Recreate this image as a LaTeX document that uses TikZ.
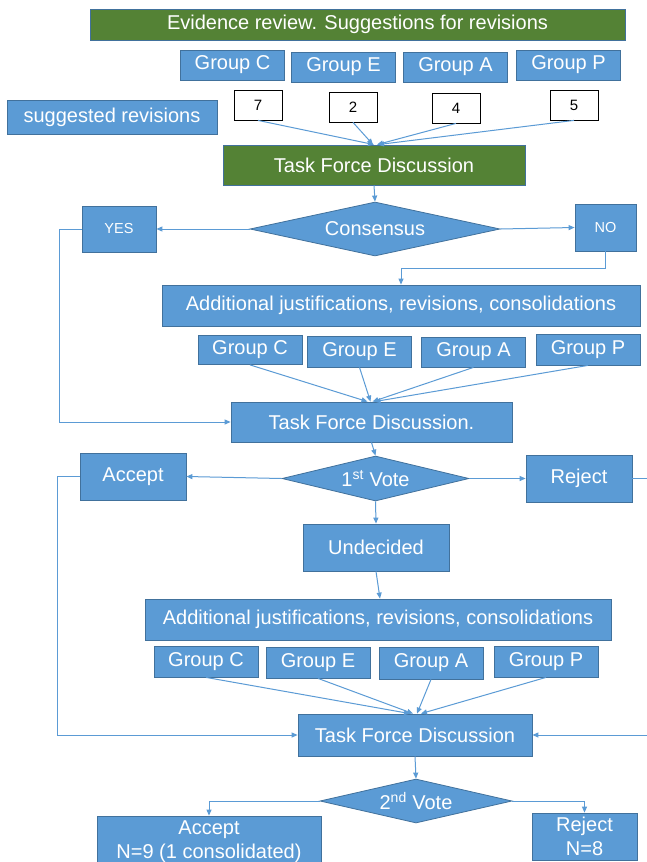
\documentclass[tikz,border=0pt]{standalone}
\usepackage{fontspec}
\setmainfont{Liberation Sans}
\usetikzlibrary{shapes.geometric,arrows.meta,calc}
\definecolor{bfill}{HTML}{5B9BD5}
\definecolor{bdraw}{HTML}{41719C}
\definecolor{gfill}{HTML}{548235}
\definecolor{aline}{HTML}{5B9BD5}
\begin{document}
\begin{tikzpicture}[x=1pt,y=-1pt,
  box/.style={rectangle, fill=bfill, draw=bdraw, line width=0.8pt, text=white, inner sep=0pt, font=\fontsize{20}{23}\selectfont, align=center},
  gbox/.style={box, fill=gfill},
  grp/.style={box, minimum width=104pt, minimum height=30pt},
  numbox/.style={rectangle, fill=white, draw=black, line width=0.8pt, inner sep=0pt, font=\fontsize{15}{18}\selectfont, minimum width=48pt, minimum height=30pt},
  dia/.style={diamond, fill=bfill, draw=bdraw, line width=0.8pt, text=white, inner sep=0pt, font=\fontsize{20}{23}\selectfont},
  arr/.style={draw=aline, line width=1pt, -{Triangle[length=6pt,width=5pt]}},
  ln/.style={draw=aline, line width=1pt}]
\fill[white] (0,0) rectangle (646,862);
\useasboundingbox (0,0) rectangle (646,862);

% top part
\node[gbox, minimum width=535pt, minimum height=31pt] (ev) at (357.5,24.5) {Evidence review. Suggestions for revisions};
\node[grp] (g1c) at (232.5,65) {Group C};
\node[grp] (g1e) at (343.5,67) {Group E};
\node[grp] (g1a) at (455.5,67) {Group A};
\node[grp] (g1p) at (568.5,65) {Group P};
\node[box, minimum width=210pt, minimum height=34pt] (sug) at (112,117) {suggested revisions};
\node[numbox] (n7) at (258,105) {7};
\node[numbox] (n2) at (353,107) {2};
\node[numbox] (n4) at (456,108) {4};
\node[numbox] (n5) at (574,105) {5};
\node[gbox, minimum width=302pt, minimum height=40pt] (tf1) at (374,165) {Task Force Discussion};

\draw[arr] (n7.south) -- ([xshift=0pt]tf1.north);
\draw[arr] (n2.south) -- ([xshift=-1pt]tf1.north);
\draw[arr] (n4.south) -- ([xshift=3pt]tf1.north);
\draw[arr] (n5.south) -- ([xshift=4pt]tf1.north);

% consensus
\node[dia, aspect=4.63, minimum width=250pt, minimum height=54pt] (cons) at (375,229) {Consensus};
\node[box, minimum width=74pt, minimum height=46pt, font=\fontsize{14.5}{17}\selectfont] (yes) at (119,229) {YES};
\node[box, minimum width=61pt, minimum height=47pt, font=\fontsize{14.5}{17}\selectfont] (no) at (605.5,227.5) {NO};
\draw[arr] (tf1.south) -- (cons.north);
\draw[arr] (cons.west) -- (yes.east);
\draw[arr] (cons.east) -- (no.west);

\node[box, minimum width=478pt, minimum height=41pt] (add1) at (401,305.5) {Additional justifications, revisions, consolidations};
\draw[arr] (no.south) -- ++(0,17) -| (add1.north);

\node[grp, minimum height=29pt] (g2c) at (250,350) {Group C};
\node[grp, minimum height=31pt] (g2e) at (359.5,351.5) {Group E};
\node[grp, minimum height=30pt] (g2a) at (473.5,352) {Group A};
\node[grp, minimum height=31pt] (g2p) at (588,349.5) {Group P};
\node[box, minimum width=281pt, minimum height=40pt] (tf2) at (371.5,422) {Task Force Discussion.};
\draw[arr] (g2c.south) -- ([xshift=-4pt]tf2.north);
\draw[arr] (g2e.south) -- ([xshift=-1pt]tf2.north);
\draw[arr] (g2a.south) -- ([xshift=1pt]tf2.north);
\draw[arr] (g2p.south) -- ([xshift=3pt]tf2.north);
\draw[arr] (yes.west) -- ++(-22,0) |- (tf2.west);

% first vote
\node[dia, aspect=4.16, minimum width=187pt, minimum height=45pt] (v1) at (375.5,478.5) {1\textsuperscript{st} Vote};
\node[box, minimum width=106pt, minimum height=47pt] (acc1) at (133,476.5) {Accept};
\node[box, minimum width=106pt, minimum height=47pt] (rej1) at (579,478.5) {Reject};
\draw[arr] (tf2.south) -- (v1.north);
\draw[arr] (v1.west) -- (acc1.east);
\draw[arr] (v1.east) -- (rej1.west);

\node[box, minimum width=146pt, minimum height=47pt] (und) at (376,547.5) {Undecided};
\draw[arr] (v1.south) -- (und.north);
\node[box, minimum width=466pt, minimum height=41pt] (add2) at (378,619.5) {Additional justifications, revisions, consolidations};
\draw[arr] (und.south) -- ([xshift=2pt]add2.north);

\node[grp, minimum height=31pt] (g3c) at (206,661.5) {Group C};
\node[grp, minimum height=31pt] (g3e) at (318,662.5) {Group E};
\node[grp, minimum height=32pt] (g3a) at (431,663) {Group A};
\node[grp, minimum height=31pt] (g3p) at (546,661.5) {Group P};
\node[box, minimum width=234pt, minimum height=42pt] (tf3) at (415,735) {Task Force Discussion};
\draw[arr] (g3c.south) -- ([xshift=-5pt]tf3.north);
\draw[arr] (g3e.south) -- ([xshift=-2pt]tf3.north);
\draw[arr] (g3a.south) -- ([xshift=2pt]tf3.north);
\draw[arr] (g3p.south) -- ([xshift=6pt]tf3.north);
\draw[arr] (acc1.west) -- ++(-22,0) |- (tf3.west);
\draw[arr] (rej1.east) -- ++(30,0) |- (tf3.east);

% second vote
\node[dia, aspect=4.36, minimum width=192pt, minimum height=44pt] (v2) at (416,801) {2\textsuperscript{nd} Vote};
\draw[arr] (tf3.south) -- (v2.north);
\node[box, minimum width=224pt, minimum height=56pt] (acc2) at (209,844) {};
\node[text=white, inner sep=0pt, font=\fontsize{20}{24}\selectfont, align=center] (acc2t) at (209,841.5) {Accept\\N=9 (1 consolidated)};
\node[box, minimum width=105pt, minimum height=47pt, font=\fontsize{20}{24}\selectfont] (rej2) at (584.5,836.5) {Reject\\N=8};
\draw[arr] (v2.west) -| (acc2.north);
\draw[arr] (v2.east) -| (rej2.north);
\end{tikzpicture}
\end{document}
